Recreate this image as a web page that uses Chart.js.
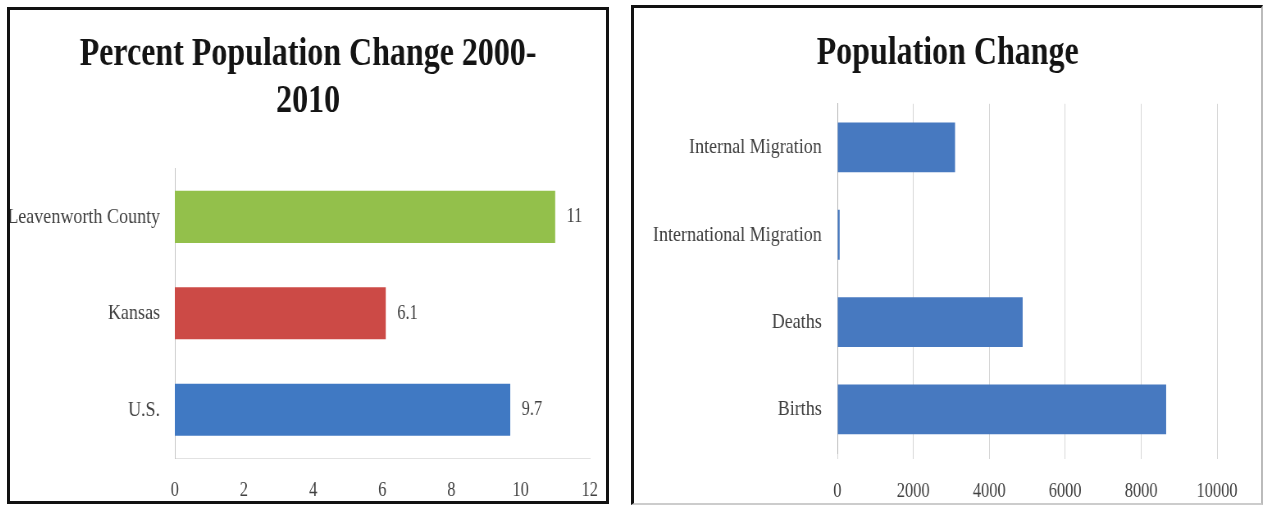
<!DOCTYPE html>
<html>
<head>
<meta charset="utf-8">
<script src="https://cdn.jsdelivr.net/npm/chart.js@4"></script>
<style>
html,body{margin:0;padding:0;background:#fff;}
body{width:1266px;height:508px;position:relative;overflow:hidden;}
.panel{position:absolute;box-sizing:border-box;background:#fff;overflow:hidden;}
#p1{left:7px;top:7px;width:602px;height:497px;border:3px solid #111;}
#p2{left:631px;top:5px;width:632px;height:500px;border:3px solid #111;border-right:2px solid #bbb;border-bottom:2px solid #ccc;}
canvas{position:absolute;left:0;top:0;transform:scaleX(0.82);transform-origin:0 0;}
</style>
</head>
<body>
<div class="panel" id="p1"><canvas id="c1" width="727" height="491"></canvas></div>
<div class="panel" id="p2"><canvas id="c2" width="765" height="495"></canvas></div>
<script>
// ---- data ----
const leftTitle = ['Percent Population Change 2000-', '2010'];
const leftCategories = ['Leavenworth County', 'Kansas', 'U.S.'];
const leftValues = [11, 6.1, 9.7];
const leftColors = ['#93C04B', '#CC4A46', '#4079C3'];
const leftTicks = [0, 2, 4, 6, 8, 10, 12];

const rightTitle = 'Population Change';
const rightCategories = ['Internal Migration', 'International Migration', 'Deaths', 'Births'];
const rightValues = [3100, 60, 4880, 8660];
const rightColor = '#4779C0';
const rightTicks = [0, 2000, 4000, 6000, 8000, 10000];

const FONT = "'Liberation Serif', 'Times New Roman', serif";

const valueLabels = {
  id: 'valueLabels',
  afterDatasetsDraw(chart, args, opts) {
    if (!opts || !opts.show) return;
    const ctx = chart.ctx;
    const meta = chart.getDatasetMeta(0);
    const vals = chart.data.datasets[0].data;
    ctx.save();
    ctx.font = opts.size + 'px ' + FONT;
    ctx.fillStyle = opts.color;
    ctx.textAlign = 'left';
    ctx.textBaseline = 'middle';
    meta.data.forEach((el, i) => {
      ctx.fillText(String(vals[i]), el.x + opts.offset, el.y);
    });
    ctx.restore();
  }
};

function noPad(s) { s.paddingLeft = 0; s.paddingRight = 0; s.paddingTop = 0; s.paddingBottom = 0; }

// an empty right-side axis that only reserves space so the full-width title stays centred
function spacer(w) {
  return {
    type: 'linear', position: 'right', axis: 'y', display: true,
    grid: { display: false, drawTicks: false }, border: { display: false },
    ticks: { display: false },
    afterFit(s) { s.width = w; noPad(s); }
  };
}

new Chart(document.getElementById('c1'), {
  type: 'bar',
  data: {
    labels: leftCategories,
    datasets: [{ data: leftValues, backgroundColor: leftColors, categoryPercentage: 1, barPercentage: 0.54 }]
  },
  options: {
    indexAxis: 'y',
    responsive: false,
    animation: false,
    devicePixelRatio: 1,
    layout: { padding: 0 },
    plugins: {
      legend: { display: false },
      tooltip: { enabled: false },
      title: {
        display: true, text: leftTitle, color: '#141414',
        font: { family: FONT, size: 39, weight: 'bold', lineHeight: 1.2 },
        padding: { top: 22, bottom: 43 }
      },
      valueLabels: { show: true, offset: 14, size: 20, color: '#404040' }
    },
    scales: {
      x: {
        min: leftTicks[0], max: leftTicks[leftTicks.length - 1],
        afterBuildTicks(s) { s.ticks = leftTicks.map(v => ({ value: v })); },
        ticks: { font: { family: FONT, size: 20 }, color: '#404040', padding: 21, maxRotation: 0,
                 callback: v => String(v) },
        grid: { display: false, drawTicks: false },
        border: { display: true, color: '#e2e2e2' },
        afterFit(s) { s.height = 43; noPad(s); }
      },
      y: {
        ticks: { font: { family: FONT, size: 22 }, color: '#404040', padding: 18 },
        grid: { display: false, drawTicks: false },
        border: { display: true, color: '#c4c4c4' },
        afterFit(s) { s.width = 201; noPad(s); }
      },
      yRight: spacer(20)
    }
  },
  plugins: [valueLabels]
});

new Chart(document.getElementById('c2'), {
  type: 'bar',
  data: {
    labels: rightCategories,
    datasets: [{ data: rightValues, backgroundColor: rightColor, categoryPercentage: 1, barPercentage: 0.57 }]
  },
  options: {
    indexAxis: 'y',
    responsive: false,
    animation: false,
    devicePixelRatio: 1,
    layout: { padding: 0 },
    plugins: {
      legend: { display: false },
      tooltip: { enabled: false },
      title: {
        display: true, text: rightTitle, color: '#141414',
        font: { family: FONT, size: 39, weight: 'bold', lineHeight: 1.2 },
        padding: { top: 23, bottom: 26 }
      }
    },
    scales: {
      x: {
        min: rightTicks[0], max: rightTicks[rightTicks.length - 1],
        afterBuildTicks(s) { s.ticks = rightTicks.map(v => ({ value: v })); },
        ticks: { font: { family: FONT, size: 20 }, color: '#404040', padding: 21, maxRotation: 0,
                 callback: v => String(v) },
        grid: { display: true, color: '#d6d6d6', drawTicks: true, tickLength: 6 },
        border: { display: false },
        afterFit(s) { s.height = 50; noPad(s); }
      },
      y: {
        ticks: { font: { family: FONT, size: 22 }, color: '#404040', padding: 19 },
        grid: { display: false, drawTicks: false },
        border: { display: true, color: '#b0b0b0' },
        afterFit(s) { s.width = 248; noPad(s); }
      },
      yRight: spacer(54)
    }
  }
});
</script>
</body>
</html>
